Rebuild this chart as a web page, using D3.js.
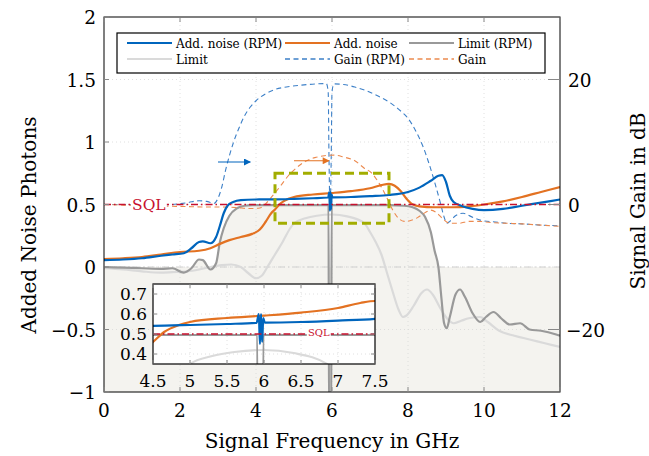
<!DOCTYPE html>
<html>
<head>
<meta charset="utf-8">
<script src="https://cdn.jsdelivr.net/npm/d3@7"></script>
<style>
  body { margin: 0; background: #fff; }
  svg text { font-family: "DejaVu Serif", serif; fill: #000; }
</style>
</head>
<body>
<svg id="chart" width="649" height="456"></svg>
<script>
// 데이터
var xTicks = [0, 2, 4, 6, 8, 10, 12];
var yTicks = [-1, -0.5, 0, 0.5, 1, 1.5, 2];
var yTickLabels = ["\u22121", "\u22120.5", "0", "0.5", "1", "1.5", "2"];
var gainTicks = [-20, 0, 20];
var gainTickLabels = ["\u221220", "0", "20"];
var insetXTicks = [4.5, 5, 5.5, 6, 6.5, 7, 7.5];
var insetYTicks = [0.4, 0.5, 0.6, 0.7];

// Add. noise (RPM)
var addNoiseRPM_x = [0, 0.5, 1, 1.5, 1.8, 2.1, 2.3, 2.5, 2.6, 2.8, 2.95, 3.05, 3.15, 3.25, 3.4, 3.6, 4, 4.5, 5, 5.5, 5.9, 5.93, 5.945, 5.96, 5.975, 5.99, 6.01, 6.5, 7, 7.5, 8, 8.3, 8.6, 8.8, 8.9, 9.0, 9.1, 9.2, 9.4, 9.7, 10, 10.5, 11, 11.5, 12];
var addNoiseRPM_y = [0.055, 0.06, 0.07, 0.09, 0.1, 0.11, 0.15, 0.2, 0.205, 0.19, 0.24, 0.33, 0.43, 0.49, 0.52, 0.535, 0.54, 0.541, 0.545, 0.55, 0.556, 0.6, 0.45, 0.6, 0.46, 0.58, 0.557, 0.56, 0.567, 0.576, 0.6, 0.635, 0.69, 0.73, 0.735, 0.68, 0.57, 0.52, 0.49, 0.465, 0.455, 0.465, 0.49, 0.515, 0.54];

// Add. noise
var addNoise_x = [0, 0.5, 1, 1.5, 2, 2.5, 2.8, 3.05, 3.3, 3.6, 3.9, 4.1, 4.25, 4.4, 4.5, 4.65, 4.85, 5, 5.5, 6, 6.5, 7, 7.3, 7.5, 7.65, 7.8, 7.95, 8.1, 8.3, 8.7, 9.2, 9.6, 10, 10.5, 11, 11.5, 12];
var addNoise_y = [0.064, 0.07, 0.08, 0.1, 0.12, 0.13, 0.15, 0.185, 0.215, 0.24, 0.265, 0.3, 0.36, 0.43, 0.46, 0.51, 0.545, 0.56, 0.58, 0.592, 0.607, 0.63, 0.655, 0.665, 0.65, 0.61, 0.55, 0.505, 0.485, 0.478, 0.478, 0.485, 0.5, 0.525, 0.56, 0.6, 0.64];

// Limit (RPM)
var limitRPM_x = [0, 0.5, 1, 1.5, 1.8, 2.1, 2.3, 2.5, 2.6, 2.8, 2.95, 3.05, 3.15, 3.3, 3.5, 3.7, 3.9, 4.5, 5.91, 5.92, 5.98, 5.99, 6.5, 7.5, 7.9, 8.1, 8.3, 8.45, 8.6, 8.7, 8.8, 8.88, 8.95, 9.02, 9.1, 9.25, 9.37, 9.5, 9.7, 9.9, 10.05, 10.25, 10.45, 10.68, 10.95, 11.2, 11.5, 11.9, 12];
var limitRPM_y = [0.0, -0.005, -0.01, -0.015, -0.01, -0.045, -0.01, 0.06, 0.055, -0.02, 0.03, 0.2, 0.31, 0.41, 0.47, 0.49, 0.495, 0.495, 0.495, -1.2, -1.2, 0.495, 0.495, 0.495, 0.49, 0.48, 0.45, 0.4, 0.28, 0.13, 0.0, -0.25, -0.45, -0.49, -0.4, -0.22, -0.18, -0.24, -0.37, -0.44, -0.4, -0.36, -0.41, -0.46, -0.45, -0.5, -0.51, -0.54, -0.55];

// Limit
var limit_x = [0, 0.5, 1, 1.5, 1.9, 2.2, 2.5, 2.8, 3.1, 3.35, 3.6, 3.8, 4.0, 4.15, 4.3, 4.5, 4.7, 4.9, 5.0, 5.3, 5.6, 6.0, 6.4, 6.85, 7.0, 7.15, 7.3, 7.45, 7.6, 7.75, 7.87, 7.95, 8.15, 8.35, 8.5, 8.65, 8.85, 9.05, 9.2, 9.4, 9.6, 9.9, 10.1, 10.4, 10.8, 11.2, 11.6, 12];
var limit_y = [-0.01, -0.02, -0.035, -0.045, -0.04, -0.035, -0.02, 0.0, 0.015, 0.02, 0.0, -0.05, -0.09, -0.07, 0.0, 0.1, 0.2, 0.31, 0.35, 0.39, 0.41, 0.42, 0.405, 0.35, 0.28, 0.2, 0.1, -0.05, -0.2, -0.34, -0.4, -0.39, -0.31, -0.21, -0.18, -0.22, -0.33, -0.42, -0.45, -0.43, -0.41, -0.4, -0.44, -0.51, -0.55, -0.58, -0.61, -0.64];

// Gain (RPM), dB
var gainRPM_x = [0, 0.5, 1, 1.5, 1.8, 2.2, 2.5, 2.7, 2.9, 3.0, 3.1, 3.2, 3.3, 3.4, 3.55, 3.7, 3.85, 4.0, 4.25, 4.5, 4.8, 5.2, 5.6, 5.85, 5.9, 5.92, 5.95, 5.98, 6.0, 6.05, 6.3, 6.6, 6.9, 7.2, 7.5, 7.8, 8.0, 8.2, 8.4, 8.55, 8.7, 8.85, 8.95, 9.02, 9.1, 9.25, 9.45, 9.65, 9.9, 10.3, 10.6, 11, 11.5, 12];
var gainRPM_y = [0, 0, -0.1, -0.1, 0, 0.3, 0.6, 0.5, 0.2, 1.0, 2.8, 5.5, 7.8, 9.8, 12.2, 14.2, 15.6, 16.6, 17.7, 18.4, 18.8, 19.1, 19.3, 19.35, 18, 8, -1, 8, 18, 19.3, 19.2, 18.8, 18.2, 17.4, 16.4, 15.0, 13.8, 11.8, 9.2, 6.6, 3.6, 0.3, -2, -3, -2.7, -1.8, -1.4, -1.9, -2.5, -2.8, -3.0, -3.1, -3.3, -3.4];

// Gain, dB
var gain_x = [0, 0.5, 1, 1.5, 1.9, 2.3, 2.7, 3.1, 3.5, 3.8, 4.1, 4.25, 4.45, 4.65, 4.85, 5.05, 5.3, 5.55, 5.8, 6.05, 6.3, 6.6, 6.85, 7.05, 7.25, 7.45, 7.6, 7.75, 7.9, 8.05, 8.25, 8.45, 8.6, 8.75, 8.9, 9.1, 9.35, 9.6, 9.85, 10.2, 10.6, 11, 11.5, 12];
var gain_y = [0, -0.1, -0.2, -0.25, -0.3, -0.35, -0.4, -0.4, -0.5, -0.65, -0.55, 0.1, 1.5, 3.0, 4.6, 5.8, 6.9, 7.5, 7.8, 7.9, 7.6, 7.0, 5.8, 5.0, 3.3, 1.0, -0.9, -2.2, -2.7, -2.6, -2.1, -1.3, -0.9, -1.3, -2.2, -3.0, -3.0, -2.7, -2.7, -2.9, -3.0, -3.1, -3.3, -3.5];

var sqlLevel = 0.5;
var zoomBox = { x0: 4.5, x1: 7.5, y0: 0.35, y1: 0.75 };
// 화살표: [x시작, x끝, 이득(dB)]
var arrowBlue = [3.0, 3.85, 6.8];
var arrowOrange = [5.0, 5.92, 7.0];

var C = {
    blue: "#0065bd", orange: "#e37222", dgray: "#999999", lgray: "#dadada",
    blueD: "#3d80c8", orangeD: "#ec8a4f", red: "#c8102e", green: "#a2ad00", shade: "#f4f3ef"
};

function zip(xs, ys) { return xs.map(function(v, i) { return [v, ys[i]]; }); }

var series = [
    { key: "limit",     data: zip(limit_x, limit_y),        color: C.lgray, w: 2.2, dash: null,  axis: "n", label: "Limit" },
    { key: "limitRPM",  data: zip(limitRPM_x, limitRPM_y),  color: C.dgray, w: 2.2, dash: null,  axis: "n", label: "Limit (RPM)" },
    { key: "gainRPM",   data: zip(gainRPM_x, gainRPM_y),    color: C.blueD, w: 1.1, dash: "5,3.5", axis: "g", label: "Gain (RPM)" },
    { key: "gain",      data: zip(gain_x, gain_y),          color: C.orangeD, w: 1.1, dash: "5,3.5", axis: "g", label: "Gain" },
    { key: "addNoise",  data: zip(addNoise_x, addNoise_y),  color: C.orange, w: 2.2, dash: null, axis: "n", label: "Add. noise" },
    { key: "addNoiseRPM", data: zip(addNoiseRPM_x, addNoiseRPM_y), color: C.blue, w: 2.2, dash: null, axis: "n", label: "Add. noise (RPM)" }
];

var svg = d3.select("#chart");
var L = 104, R = 560, T = 17, B = 392;

var x = d3.scaleLinear().domain([0, 12]).range([L, R]);
var y = d3.scaleLinear().domain([-1, 2]).range([B, T]);
var yG = d3.scaleLinear().domain([-30, 30]).range([B, T]);

var defs = svg.append("defs");
defs.append("clipPath").attr("id", "clipMain").append("rect")
    .attr("x", L).attr("y", T).attr("width", R - L).attr("height", B - T);

["blue", "orange"].forEach(function(c) {
    defs.append("marker").attr("id", "arr-" + c)
        .attr("viewBox", "0 0 10 10").attr("refX", 9).attr("refY", 5)
        .attr("markerWidth", 9).attr("markerHeight", 7).attr("markerUnits", "userSpaceOnUse")
        .attr("orient", "auto")
        .append("path").attr("d", "M0,0 L10,5 L0,10 Z").attr("fill", C[c]);
});

var main = svg.append("g").attr("clip-path", "url(#clipMain)");

// 음영 영역 (Limit (RPM) 아래)
var shadeArea = d3.area()
    .x(function(d) { return x(d[0]); })
    .y0(y(-1))
    .y1(function(d) { return y(Math.max(0, d[1])); })
    .curve(d3.curveMonotoneX);
main.append("path").datum(series[1].data).attr("d", shadeArea).attr("fill", C.shade);

// 그리드
main.selectAll(".gx").data(xTicks.slice(1, -1)).enter().append("line")
    .attr("x1", x).attr("x2", x).attr("y1", T).attr("y2", B)
    .attr("stroke", "#d8d8d8").attr("stroke-width", 0.8).attr("stroke-dasharray", "1,3");
main.selectAll(".gy").data(yTicks.slice(1, -1)).enter().append("line")
    .attr("x1", L).attr("x2", R).attr("y1", y).attr("y2", y)
    .attr("stroke", "#d8d8d8").attr("stroke-width", 0.8).attr("stroke-dasharray", "1,3");

// 0 기준선
main.append("line").attr("x1", L).attr("x2", R).attr("y1", y(0)).attr("y2", y(0))
    .attr("stroke", "#cfcfcf").attr("stroke-width", 1).attr("stroke-dasharray", "7,3,1.5,3");

function drawSeries(g, sx, sy, syG) {
    series.forEach(function(s) {
        var yy = s.axis === "g" ? syG : sy;
        var line = d3.line()
            .x(function(d) { return sx(d[0]); })
            .y(function(d) { return yy(d[1]); })
            .curve(d3.curveMonotoneX);
        g.append("path").datum(s.data).attr("d", line)
            .attr("fill", "none").attr("stroke", s.color)
            .attr("stroke-width", s.w).attr("stroke-dasharray", s.dash)
            .attr("stroke-linejoin", "round");
    });
}
drawSeries(main, x, y, yG);

// SQL 선
main.append("line").attr("x1", L).attr("x2", R).attr("y1", y(sqlLevel)).attr("y2", y(sqlLevel))
    .attr("stroke", C.red).attr("stroke-width", 1.6).attr("stroke-dasharray", "7,3,1.5,3");
var sqlG = main.append("g");
sqlG.append("rect").attr("x", x(1.18) - 18).attr("y", y(sqlLevel) - 9).attr("width", 36).attr("height", 16).attr("fill", "#fff");
sqlG.append("text").attr("x", x(1.18)).attr("y", y(sqlLevel) + 5.5).attr("text-anchor", "middle")
    .style("font-size", "15.5px").style("fill", C.red).text("SQL");

// 확대 영역 표시 박스
main.append("rect")
    .attr("x", x(zoomBox.x0)).attr("y", y(zoomBox.y1))
    .attr("width", x(zoomBox.x1) - x(zoomBox.x0)).attr("height", y(zoomBox.y0) - y(zoomBox.y1))
    .attr("fill", "none").attr("stroke", C.green).attr("stroke-width", 3).attr("stroke-dasharray", "9,5");

// 화살표
[[arrowBlue, "blue"], [arrowOrange, "orange"]].forEach(function(a) {
    main.append("line")
        .attr("x1", x(a[0][0])).attr("x2", x(a[0][1]))
        .attr("y1", yG(a[0][2])).attr("y2", yG(a[0][2]))
        .attr("stroke", C[a[1]]).attr("stroke-width", 1.2)
        .attr("marker-end", "url(#arr-" + a[1] + ")");
});

// 테두리와 눈금
svg.append("rect").attr("x", L).attr("y", T).attr("width", R - L).attr("height", B - T)
    .attr("fill", "none").attr("stroke", "#000").attr("stroke-width", 1);

var tickC = "#888", tl = 5;
xTicks.forEach(function(t) {
    svg.append("line").attr("x1", x(t)).attr("x2", x(t)).attr("y1", B).attr("y2", B - tl).attr("stroke", tickC);
    svg.append("line").attr("x1", x(t)).attr("x2", x(t)).attr("y1", T).attr("y2", T + tl).attr("stroke", tickC);
    svg.append("text").attr("x", x(t)).attr("y", B + 25).attr("text-anchor", "middle")
        .style("font-size", "18.5px").text(t);
});
yTicks.forEach(function(t, i) {
    svg.append("line").attr("x1", L).attr("x2", L + tl).attr("y1", y(t)).attr("y2", y(t)).attr("stroke", tickC);
    svg.append("text").attr("x", L - 8).attr("y", y(t) + 7).attr("text-anchor", "end")
        .style("font-size", "18.5px").text(yTickLabels[i]);
});
gainTicks.forEach(function(t, i) {
    svg.append("line").attr("x1", R).attr("x2", R - 12).attr("y1", yG(t)).attr("y2", yG(t)).attr("stroke", tickC);
    svg.append("text").attr("x", t < 0 ? R + 6 : R + 8).attr("y", yG(t) + 7).attr("text-anchor", "start")
        .style("font-size", "18.5px").text(gainTickLabels[i]);
});

// 축 제목
svg.append("text").attr("x", (L + R) / 2).attr("y", 448).attr("text-anchor", "middle")
    .style("font-size", "20px").text("Signal Frequency in GHz");
svg.append("text").attr("transform", "translate(36,225) rotate(-90)").attr("text-anchor", "middle")
    .style("font-size", "20px").text("Added Noise Photons");
svg.append("text").attr("transform", "translate(645,201) rotate(-90)").attr("text-anchor", "middle")
    .style("font-size", "20px").text("Signal Gain in dB");

// 범례
var leg = svg.append("g");
leg.append("rect").attr("x", 117).attr("y", 33).attr("width", 428).attr("height", 40)
    .attr("fill", "#fff").attr("stroke", "#000").attr("stroke-width", 1.2);
var legendOrder = ["addNoiseRPM", "addNoise", "limitRPM", "limit", "gainRPM", "gain"];
var legCols = [127, 285, 409], legRows = [43, 59];
var legPos = [[0, 0], [1, 0], [2, 0], [0, 1], [1, 1], [2, 1]];
legendOrder.forEach(function(k, i) {
    var s = series.filter(function(d) { return d.key === k; })[0];
    var lx = legCols[legPos[i][0]], ly = legRows[legPos[i][1]];
    leg.append("line").attr("x1", lx).attr("x2", lx + 45).attr("y1", ly).attr("y2", ly)
        .attr("stroke", s.color).attr("stroke-width", s.dash ? 1.3 : 2.2).attr("stroke-dasharray", s.dash);
    leg.append("text").attr("x", lx + 49).attr("y", ly + 4.5).style("font-size", "12px").text(s.label);
});

// 확대 삽입 그림
var IL = 153, IR = 375, IT = 284, IB = 364;
var ix = d3.scaleLinear().domain([zoomBox.x0, zoomBox.x1]).range([IL, IR]);
var iy = d3.scaleLinear().domain([zoomBox.y0, zoomBox.y1]).range([IB, IT]);
var iyG = d3.scaleLinear().domain([-1000, 1000]).range([IB + 5000, IT - 5000]);
defs.append("clipPath").attr("id", "clipInset").append("rect")
    .attr("x", IL).attr("y", IT).attr("width", IR - IL).attr("height", IB - IT);

svg.append("rect").attr("x", IL).attr("y", IT).attr("width", IR - IL).attr("height", IB - IT).attr("fill", "#fff");
var ins = svg.append("g").attr("clip-path", "url(#clipInset)");
ins.selectAll(".igx").data(insetXTicks.slice(1, -1)).enter().append("line")
    .attr("x1", ix).attr("x2", ix).attr("y1", IT).attr("y2", IB)
    .attr("stroke", "#d8d8d8").attr("stroke-width", 0.8).attr("stroke-dasharray", "1,3");
ins.selectAll(".igy").data(insetYTicks).enter().append("line")
    .attr("x1", IL).attr("x2", IR).attr("y1", iy).attr("y2", iy)
    .attr("stroke", "#d8d8d8").attr("stroke-width", 0.8).attr("stroke-dasharray", "1,3");

series.forEach(function(s) {
    if (s.axis === "g") return;
    var line = d3.line().x(function(d) { return ix(d[0]); }).y(function(d) { return iy(d[1]); }).curve(d3.curveMonotoneX);
    ins.append("path").datum(s.data).attr("d", line).attr("fill", "none")
        .attr("stroke", s.color).attr("stroke-width", s.w);
});
ins.append("line").attr("x1", IL).attr("x2", IR).attr("y1", iy(sqlLevel)).attr("y2", iy(sqlLevel))
    .attr("stroke", C.red).attr("stroke-width", 1.6).attr("stroke-dasharray", "7,3,1.5,3");
ins.append("rect").attr("x", ix(6.74) - 12).attr("y", iy(sqlLevel) - 6).attr("width", 24).attr("height", 8).attr("fill", "#fff");
ins.append("text").attr("x", ix(6.74)).attr("y", iy(sqlLevel) + 1.5).attr("text-anchor", "middle")
    .style("font-size", "10px").style("fill", C.red).text("SQL");

svg.append("rect").attr("x", IL).attr("y", IT).attr("width", IR - IL).attr("height", IB - IT)
    .attr("fill", "none").attr("stroke", "#000").attr("stroke-width", 1.2);
insetXTicks.forEach(function(t) {
    svg.append("line").attr("x1", ix(t)).attr("x2", ix(t)).attr("y1", IB).attr("y2", IB - 4).attr("stroke", tickC);
    svg.append("line").attr("x1", ix(t)).attr("x2", ix(t)).attr("y1", IT).attr("y2", IT + 4).attr("stroke", tickC);
    svg.append("text").attr("x", ix(t)).attr("y", IB + 23).attr("text-anchor", "middle")
        .style("font-size", "17px").text(t);
});
insetYTicks.forEach(function(t) {
    svg.append("line").attr("x1", IL).attr("x2", IL + 4).attr("y1", iy(t)).attr("y2", iy(t)).attr("stroke", tickC);
    svg.append("line").attr("x1", IR).attr("x2", IR - 4).attr("y1", iy(t)).attr("y2", iy(t)).attr("stroke", tickC);
    svg.append("text").attr("x", IL - 6).attr("y", iy(t) + 6).attr("text-anchor", "end")
        .style("font-size", "17px").text(t);
});
</script>
</body>
</html>
